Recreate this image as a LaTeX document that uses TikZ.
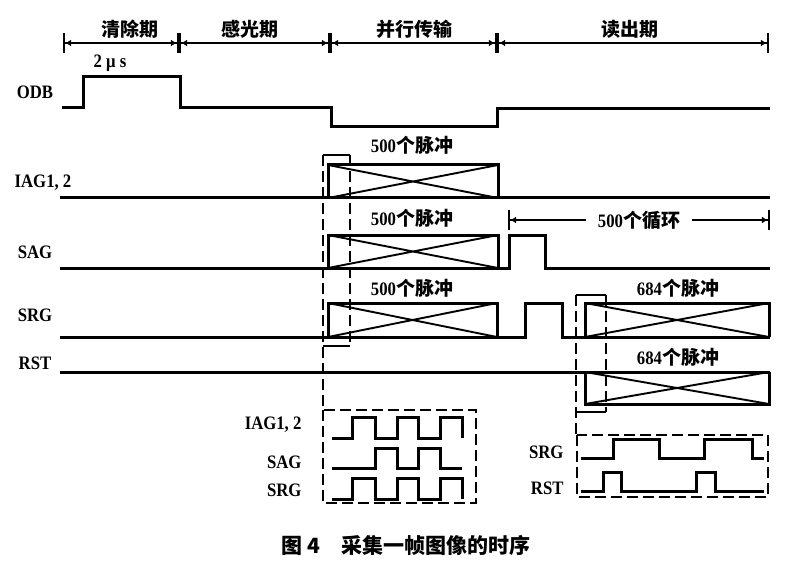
\documentclass[tikz,border=0pt]{standalone}
\usepackage{fontspec}
\setmainfont{Liberation Serif}[FakeStretch=0.88]
\newfontfamily\cjk{Noto Sans CJK SC}
\usetikzlibrary{arrows.meta}
\newcommand{\zh}[1]{{\cjk\bfseries #1}}

\begin{document}
\begin{tikzpicture}[x=1pt,y=-1pt,
    sig/.style={line width=3pt,line join=miter},
    xline/.style={line width=1.9pt},
    magline/.style={line width=2.4pt,dash pattern=on 11pt off 5pt},
    frame/.style={line width=2.4pt},
    dimline/.style={line width=1.4pt,{Bar[width=20pt,line width=2.2pt]Latex[length=6pt,width=7pt]}-{Latex[length=6pt,width=7pt]Bar[width=20pt,line width=2.2pt]}},
    lab/.style={font=\fontsize{19}{19}\selectfont\bfseries},
    cnt/.style={font=\fontsize{19}{19}\selectfont\bfseries}]
    \useasboundingbox (0,0) rectangle (791,561);
    \coordinate (t0) at (63,43);
    \coordinate (t1) at (179,43);
    \coordinate (t2) at (330,43);
    \coordinate (t3) at (497,43);
    \coordinate (t4) at (769,43);
    \draw[dimline] (t0) -- (t1);
    \draw[dimline] (t1) -- (t2);
    \draw[dimline] (t2) -- (t3);
    \draw[dimline] (t3) -- (t4);
    \node[cnt] (qc) at (130,29) {\zh{清除期}};
    \node[cnt] (gg) at (250,29) {\zh{感光期}};
    \node[cnt] (bx) at (414,29) {\zh{并行传输}};
    \node[cnt] (dc) at (630,29) {\zh{读出期}};

    \node[lab] (odb) at (35,92) {ODB};
    \node[lab] (us) at (110,63) {2 μ s};
    \draw[sig] (62,108) -- (83,108) -- (83,77) -- (180,77) -- (180,108) -- (331,108) -- (331,127) -- (497,127) -- (497,109) -- (770,109);

    \node[lab] (iag) at (43,183) {IAG1, 2};
    \node[lab] (sag) at (35,252) {SAG};
    \node[lab] (srg) at (35,315) {SRG};
    \node[lab] (rst) at (35,363) {RST};

    \draw[sig] (60,198) -- (770,198);
    \draw[sig] (328,198) -- (328,165) -- (498,165) -- (498,198);
    \draw[xline] (328,165) -- (498,198) (328,198) -- (498,165);
    \node[cnt] (n1) at (412,145) {500\zh{个脉冲}};

    \draw[sig] (60,268) -- (509,268) -- (509,235) -- (545,235) -- (545,268) -- (770,268);
    \draw[sig] (328,268) -- (328,235) -- (498,235) -- (498,268);
    \draw[xline] (328,235) -- (498,268) (328,268) -- (498,235);
    \node[cnt] (n2) at (412,218) {500\zh{个脉冲}};

    \draw[sig] (60,337) -- (525,337) -- (525,303) -- (562,303) -- (562,337) -- (770,337);
    \draw[sig] (328,337) -- (328,303) -- (497,303) -- (497,337);
    \draw[xline] (328,303) -- (497,337) (328,337) -- (497,303);
    \node[cnt] (n3) at (412,288) {500\zh{个脉冲}};
    \draw[sig] (585,337) -- (585,303) -- (769,303) -- (769,337);
    \draw[xline] (585,303) -- (769,337) (585,337) -- (769,303);
    \node[cnt] (n4) at (678,288) {684\zh{个脉冲}};

    \draw[sig] (60,372) -- (770,372);
    \draw[sig] (585,372) -- (585,404) -- (769,404) -- (769,372);
    \draw[xline] (585,372) -- (769,404) (585,404) -- (769,372);
    \node[cnt] (n5) at (678,357) {684\zh{个脉冲}};

    \coordinate (c0) at (508,220);
    \coordinate (c1) at (770,220);
    \draw[dimline] (c0) -- node[cnt,fill=white,inner xsep=12pt,pos=0.5] (cyc) {500\zh{个循环}} (c1);

    \draw[frame] (323,155) -- (350,155) (323,346) -- (350,346);
    \draw[magline] (323,155) -- (323,410) (350,155) -- (350,346);
    \draw[magline] (323,410) rectangle (476,503);
    \node[lab,anchor=east] (iagz) at (305,425) {IAG1, 2};
    \node[lab,anchor=east] (sagz) at (305,462) {SAG};
    \node[lab,anchor=east] (srgz) at (305,490) {SRG};
    \draw[sig] (332,438) -- (352,438) -- (352,417) -- (375,417) -- (375,438) -- (397,438) -- (397,417) -- (418,417) -- (418,438) -- (440,438) -- (440,417) -- (462,417) -- (462,438);
    \draw[sig] (332,468) -- (375,468) -- (375,448) -- (397,448) -- (397,468) -- (418,468) -- (418,448) -- (440,448) -- (440,468) -- (462,468);
    \draw[sig] (332,499) -- (352,499) -- (352,478) -- (375,478) -- (375,499) -- (397,499) -- (397,478) -- (418,478) -- (418,499) -- (440,499) -- (440,478) -- (462,478) -- (462,499);

    \draw[frame] (576,295) -- (606,295) (576,412) -- (606,412);
    \draw[magline] (576,295) -- (576,435) (606,295) -- (606,412);
    \draw[magline] (577,435) rectangle (768,497);
    \node[lab,anchor=east] (srgr) at (567,452) {SRG};
    \node[lab,anchor=east] (rstr) at (567,488) {RST};
    \draw[sig] (581,458) -- (613,458) -- (613,439) -- (659,439) -- (659,458) -- (704,458) -- (704,439) -- (752,439) -- (752,458) -- (764,458);
    \draw[sig] (581,491) -- (603,491) -- (603,472) -- (621,472) -- (621,491) -- (696,491) -- (696,472) -- (715,472) -- (715,491) -- (764,491);

    \node[font=\fontsize{21}{21}\selectfont] (cap) at (406,545) {\zh{图\ 4\quad 采集一帧图像的时序}};
\end{tikzpicture}
\end{document}
